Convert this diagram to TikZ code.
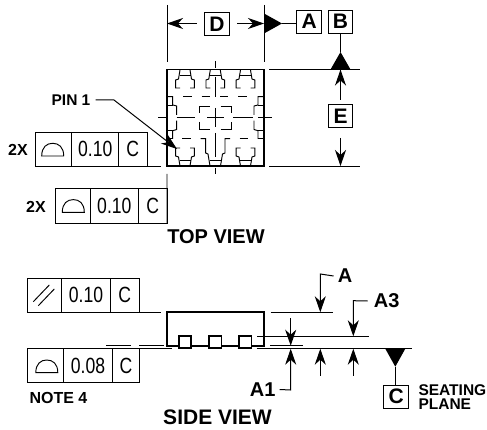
\documentclass[tikz,border=0pt]{standalone}
\usepackage{fontspec}
\setmainfont{Liberation Sans}
\usetikzlibrary{arrows.meta}
\newcommand{\cellbox}[6]{\node[cellstyle,minimum width={(#4-#2)*1pt},minimum height={(#5-#3)*1pt}] (#1) at ({(#2+#4)/2},{(#3+#5)/2}) {#6};}
\newcommand{\tol}[1]{\fontsize{22}{22}\selectfont\scalebox{0.8}[1]{#1}}
\newcommand{\lab}[1]{\fontsize{#1}{#1}\selectfont\bfseries}
\newcommand{\profsym}[2]{\draw[thinline] (#1-11,#2) -- (#1+11,#2) .. controls (#1+11,#2-9) and (#1+6,#2-12.7) .. (#1,#2-12.7) .. controls (#1-6,#2-12.7) and (#1-11,#2-9) .. cycle;}
\newcommand{\pintop}[1]{%
 \draw[pinline] (#1-5,70) -- (#1-6.5,79) -- (#1-9.3,80) -- (#1-9.3,88) -- (#1-5,88);
 \draw[pinline] (#1+5,70) -- (#1+6.5,79) -- (#1+9.3,80) -- (#1+9.3,88) -- (#1+5,88);
 \draw[pinline] (#1-5.5,75.5) -- (#1+5.5,75.5);}
\newcommand{\pinbot}[1]{%
 \draw[pinline] (#1-5,166) -- (#1-6.5,157) -- (#1-9.3,156) -- (#1-9.3,148) -- (#1-5,148);
 \draw[pinline] (#1+5,166) -- (#1+6.5,157) -- (#1+9.3,156) -- (#1+9.3,148) -- (#1+5,148);
 \draw[pinline] (#1-5.5,160.5) -- (#1+5.5,160.5);}
\begin{document}
\begin{tikzpicture}[x=1pt,y=-1pt,
  thinline/.style={line width=0.95pt,black},
  pinline/.style={line width=0.95pt,black},
  boldline/.style={line width=1.8pt,black},
  dim/.style={line width=1pt,black,-{Stealth[length=16pt,width=11pt,inset=5pt]}},
  cellstyle/.style={draw,line width=0.95pt,inner sep=0pt,outer sep=0pt},
  datumbox/.style={draw,line width=1pt,inner sep=0pt,outer sep=0pt,minimum width=24.7pt,minimum height=23pt,font=\lab{21}}]
\useasboundingbox (0,0) rectangle (487,430);
% ---------- top view
\draw[boldline] (167,69.5) rectangle (263.7,166);
\pintop{185}\pintop{215.3}\pintop{245.5}
\pinbot{185}\pinbot{245.5}
% bottom centre pin
\draw[pinline] (200.7,138.7) -- (205.7,138.7) -- (205.7,153) -- (208,154) -- (210,166);
\draw[pinline] (230,138.7) -- (225,138.7) -- (225,153) -- (222.5,154) -- (220.5,166);
\draw[pinline] (209.5,160.5) -- (221,160.5);
% side pins
\foreach \xa/\xb/\xc in {167/172.7/176.7,263.7/258/254}{
 \draw[pinline] (\xa,96.7) -- (\xb,96.7) -- (\xb,105) -- (\xc,106) -- (\xc,115);
 \draw[pinline] (\xa,105) -- (\xb,105);
 \draw[pinline] (\xc,120.7) -- (\xc,129.5) -- (\xb,130.7) -- (\xb,138.5) -- (\xa,138.5);
 \draw[pinline] (\xa,130.7) -- (\xb,130.7);
}
% centre pad corners
\draw[pinline] (199.3,113) -- (199.3,106) -- (210,106);
\draw[pinline] (220.7,106) -- (231.3,106) -- (231.3,113);
\draw[pinline] (199.3,122) -- (199.3,129.3) -- (210,129.3);
\draw[pinline] (220.7,129.3) -- (231.3,129.3) -- (231.3,122);
% dashes
\foreach \a/\b in {183.3/192.3,201.7/210,220/228.3,238.3/246.7}{\draw[pinline] (\a,96.7) -- (\b,96.7);}
\foreach \a/\b in {182.3/191,239.5/248.3}{\draw[pinline] (\a,138.7) -- (\b,138.7);}
% centre lines
\foreach \a/\b in {61/68,77/97,108/127,133/157,168/174}{\draw[pinline] (215.3,\a) -- (215.3,\b);}
\foreach \a/\b in {158/167,176.7/195,207/224,233/253,258/272}{\draw[pinline] (\a,117.7) -- (\b,117.7);}
% D dimension
\coordinate (dl) at (167,23.5); \coordinate (dr) at (264,23.5);
\draw[thinline] (167,5) -- (167,62);
\draw[thinline] (264,5) -- (264,62);
\node[datumbox] (D) at (217,24.5) {D};
\node[datumbox] (A) at (309.2,21.7) {A};
\node[datumbox] (B) at (340.5,21.7) {B};
\node[datumbox] (E) at (340.5,116.5) {E};
\draw[dim] ([xshift=-8pt]D.west |- dl) -- (dl);
\draw[dim] ([xshift=8pt]D.east |- dr) -- (dr);
\coordinate (tipA) at (282,23.5);
\fill (264,13.5) -- (tipA) -- (264,33.5) -- cycle;
\draw[thinline] (tipA) -- (A.west |- tipA);
\coordinate (tipB) at (340.5,52);
\fill (tipB) -- (330.5,69.5) -- (350.5,69.5) -- cycle;
\draw[thinline] (B.south) -- (tipB);
\coordinate (etop) at (340.5,69.5); \coordinate (ebot) at (340.5,166);
\draw[thinline] (269,69.5) -- (360,69.5);
\draw[thinline] (269,166) -- (360,166);
\draw[dim] ([yshift=5pt]E.north) -- (etop);
\draw[dim] ([yshift=-10pt]E.south) -- (ebot);
% PIN 1
\node[font=\lab{15.5},inner sep=0pt] (pin) at (71,100) {PIN 1};
\coordinate (pintip) at (177,149);
\draw[dim] ([xshift=5pt]pin.east) -- (114,100) -- (pintip);
% tolerance frames
\node[font=\lab{16},inner sep=0pt] (tx1) at (18,150) {2X};
\cellbox{f1a}{35}{132}{71.7}{166}{}
\cellbox{f1b}{71.7}{132}{118.7}{166}{\tol{0.10}}
\cellbox{f1c}{118.7}{132}{147}{166}{\tol{C}}
\profsym{52.7}{156}
\draw[thinline] (f1c.south east) -- (161,166);
\node[font=\lab{16},inner sep=0pt] (tx2) at (36,207) {2X};
\cellbox{f2a}{55.7}{188}{90}{223}{}
\cellbox{f2b}{90}{188}{138.7}{223}{\tol{0.10}}
\cellbox{f2c}{138.7}{188}{167}{223}{\tol{C}}
\profsym{73.3}{212.3}
\draw[thinline] (167,174) -- (f2c.south east);
\node[font=\lab{20},inner sep=0pt] (topview) at (216,237) {TOP VIEW};
% ---------- side view
\draw[boldline] (179,345.7) -- (166.7,345.7) -- (166.7,312.3) -- (264,312.3) -- (264,345.7) -- (251.5,345.7);
\node[draw,line width=1.8pt,minimum width=12.3pt,minimum height=12.3pt,inner sep=0pt,outer sep=0pt] (s1) at (185.2,342.2) {};
\node[draw,line width=1.8pt,minimum width=12.3pt,minimum height=12.3pt,inner sep=0pt,outer sep=0pt] (s2) at (215.4,342.2) {};
\node[draw,line width=1.8pt,minimum width=12.3pt,minimum height=12.3pt,inner sep=0pt,outer sep=0pt] (s3) at (245.4,342.2) {};
\draw[boldline] (s1.east |- 0,345.7) -- (s2.west |- 0,345.7);
\draw[boldline] (s2.east |- 0,345.7) -- (s3.west |- 0,345.7);
% parallelism frame
\cellbox{f3a}{27.3}{278.3}{61.7}{312.3}{}
\cellbox{f3b}{61.7}{278.3}{110.3}{312.3}{\tol{0.10}}
\cellbox{f3c}{110.3}{278.3}{139.3}{312.3}{\tol{C}}
\draw[thinline] (33.3,301.7) -- (49.3,285);
\draw[thinline] (38.3,305.7) -- (54.3,289);
\draw[thinline] (f3c.south east) -- (160.7,312.3);
% flatness frame
\cellbox{f4a}{27.3}{348.7}{63.3}{382.7}{}
\cellbox{f4b}{63.3}{348.7}{112.7}{382.7}{\tol{0.08}}
\cellbox{f4c}{112.7}{348.7}{139.3}{382.7}{\tol{C}}
\profsym{46.8}{372.7}
\draw[thinline] (f4c.north east) -- (171.7,348.7);
\draw[thinline] (106,345) -- (130.7,345);
\draw[thinline] (139,345) -- (164,345);
\node[font=\lab{16},inner sep=0pt] (note) at (58.5,398) {NOTE 4};
\node[font=\lab{21},inner sep=0pt] (sideview) at (217.5,417) {SIDE VIEW};
% right side dimensions
\draw[thinline] (270.7,312.3) -- (332.7,312.3);
\draw[thinline] (257,336.3) -- (369.3,336.3);
\draw[thinline] (270,345.7) -- (303.3,345.7);
\draw[thinline] (256.7,348.7) -- (411.7,348.7);
\node[font=\lab{20},inner sep=0pt] (lA) at (345,276) {A};
\node[font=\lab{20},inner sep=0pt] (lA3) at (386.7,301) {A3};
\node[font=\lab{20},inner sep=0pt] (lA1) at (262.7,389.5) {A1};
\coordinate (aT) at (320.3,312.3);
\coordinate (a3T) at (353.3,336.3);
\coordinate (a1T) at (290.7,345.7);
\coordinate (a1B) at (290.7,348.7);
\draw[dim] ([xshift=-4pt]lA.west) -- (320.3,274) -- (aT);
\draw[dim] ([xshift=-6pt]lA3.west) -- (353.3,300.7) -- (a3T);
\draw[dim] (290.7,318.3) -- (a1T);
\draw[dim] ([xshift=4pt]lA1.east) -- (290.7,390) -- (a1B);
\draw[dim] (320.3,375.7) -- (320.3,348.7);
\draw[dim] (353.3,375.7) -- (353.3,348.7);
\coordinate (tipC) at (395.3,366.7);
\fill (tipC) -- (385.3,348.7) -- (405.3,348.7) -- cycle;
\node[datumbox] (C) at (396.3,396.7) {C};
\draw[thinline] (tipC) -- (C.north -| tipC);
\node[font=\lab{15.5},inner sep=0pt,anchor=west] (seat) at (418.3,390) {SEATING};
\node[font=\lab{15.5},inner sep=0pt,anchor=west] (plane) at (418.3,404.3) {PLANE};
\end{tikzpicture}
\end{document}
